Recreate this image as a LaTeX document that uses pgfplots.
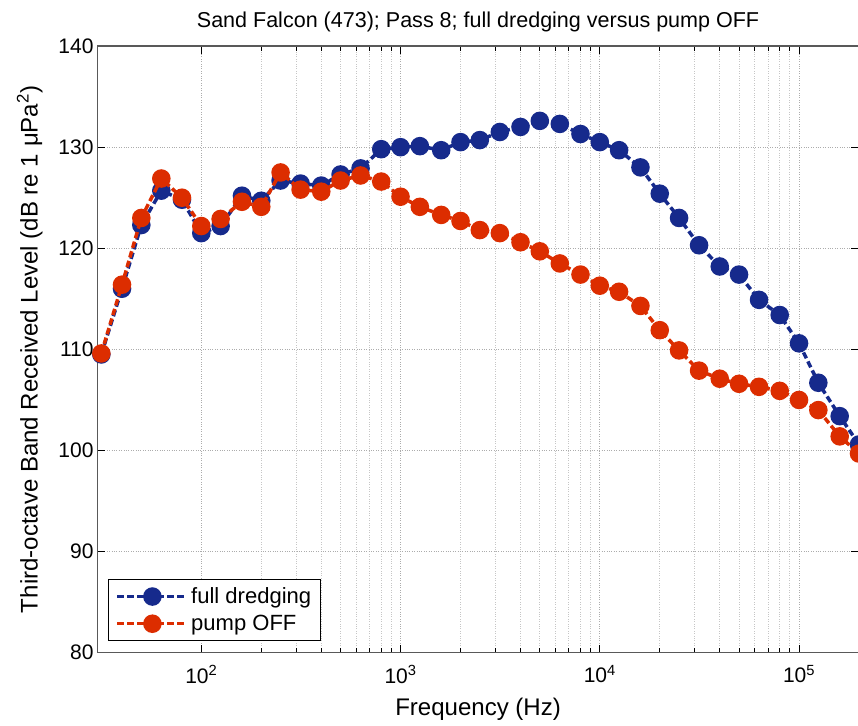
\documentclass[border=0pt]{standalone}
\usepackage{fontspec}
\setmainfont{Liberation Sans}
\usepackage{pgfplots}
\pgfplotsset{compat=1.18}
\usetikzlibrary{calc}
\definecolor{cblue}{RGB}{22,42,140}
\definecolor{cred}{RGB}{220,45,0}
\begin{document}
\begin{tikzpicture}
\begin{axis}[
  scale only axis,
  width=761pt, height=606pt,
  xmode=log,
  xmin=30, xmax=2e5,
  ymin=80, ymax=140,
  ytick={80,90,...,140},
  xtick={100,1000,10000,100000},
  xticklabels={10\textsuperscript{2},10\textsuperscript{3},10\textsuperscript{4},10\textsuperscript{5}},
  /pgf/number format/assume math mode=true,
  tick label style={font=\fontsize{21}{24}\selectfont},
  xticklabel style={yshift=-9pt},
  label style={font=\fontsize{24}{28}\selectfont},
  ylabel style={yshift=9pt},
  xlabel style={yshift=-8pt},
  title style={font=\fontsize{21.5}{25}\selectfont, yshift=5pt},
  title={Sand Falcon (473); Pass 8; full dredging versus pump OFF},
  xlabel={Frequency (Hz)},
  ylabel={Third-octave Band Received Level (dB re 1 μPa\textsuperscript{2})},
  grid=both,
  major grid style={gray!65, dotted, line width=0.9pt},
  minor grid style={gray!45, dotted, line width=0.9pt},
  axis line style={gray!70!black, line width=1.2pt},
  tick style={black, line width=0.9pt},
  major tick length=8pt, minor tick length=5pt,
  tick align=inside,
  clip mode=individual,
  legend style={at={(0.0145,0.02)}, anchor=south west, draw=black, line width=0.9pt,
    font=\fontsize{22}{26}\selectfont, inner xsep=7pt, inner ysep=6pt, row sep=6pt},
  legend cell align=left,
  legend image code/.code={
    \draw[#1, mark=none] (0pt,0pt) -- (70pt,0pt);
    \draw[#1, mark options={solid}] plot coordinates {(35pt,0pt)};
  },
]
\addplot[cblue, line width=3.5pt, dash pattern=on 6.5pt off 3.5pt, mark=*, mark size=7.5pt, mark options={solid}] coordinates {
(31.5,109.5) (40,116.0) (50,122.3) (63,125.7) (80,124.8) (100,121.5) (125,122.2) (160,125.2) (200,124.7) (250,126.7) (315,126.4) (400,126.2) (500,127.3) (630,127.9) (800,129.8) (1000,130.0) (1250,130.1) (1600,129.7) (2000,130.5) (2500,130.7) (3150,131.5) (4000,132.0) (5000,132.6) (6300,132.3) (8000,131.3) (10000,130.5) (12500,129.7) (16000,128.0) (20000,125.4) (25000,123.0) (31500,120.3) (40000,118.2) (50000,117.4) (63000,114.9) (80000,113.4) (100000,110.6) (125000,106.7) (160000,103.4) (200000,100.6)
};
\addlegendentry{full dredging}
\addplot[cred, line width=3.5pt, dash pattern=on 6.5pt off 3.5pt, mark=*, mark size=7.5pt, mark options={solid}] coordinates {
(31.5,109.6) (40,116.4) (50,123.0) (63,126.9) (80,125.0) (100,122.2) (125,122.9) (160,124.6) (200,124.1) (250,127.5) (315,125.8) (400,125.6) (500,126.7) (630,127.2) (800,126.6) (1000,125.1) (1250,124.1) (1600,123.3) (2000,122.7) (2500,121.8) (3150,121.5) (4000,120.6) (5000,119.7) (6300,118.5) (8000,117.4) (10000,116.3) (12500,115.7) (16000,114.3) (20000,111.9) (25000,109.9) (31500,107.9) (40000,107.1) (50000,106.6) (63000,106.3) (80000,105.9) (100000,105.0) (125000,104.0) (160000,101.4) (200000,99.7)
};
\addlegendentry{pump OFF}
\end{axis}
\pgfresetboundingbox
\useasboundingbox ($(current axis.south west)+(-97pt,-73pt)$) rectangle ($(current axis.north east)+(-1pt,46pt)$);
\end{tikzpicture}
\end{document}
